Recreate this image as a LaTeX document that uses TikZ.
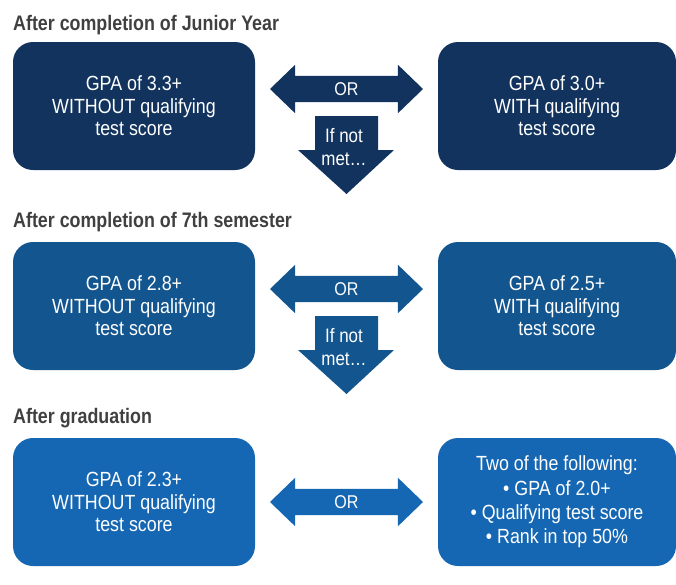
\documentclass[tikz,border=0pt]{standalone}
\usepackage{fontspec}
\setmainfont{Liberation Sans}[FakeStretch=0.87]
\newfontfamily\headfont{Liberation Sans}[FakeStretch=0.85]
\usetikzlibrary{shapes.arrows}
\definecolor{rowone}{HTML}{11335E}
\definecolor{rowtwo}{HTML}{13558F}
\definecolor{rowthree}{HTML}{1667B3}
\definecolor{titlegray}{HTML}{404040}
\begin{document}
\begin{tikzpicture}
    [x=1pt,y=-1pt,
     box/.style={rounded corners=20pt,minimum width=242pt,minimum height=128pt,
       align=center,text=white,font=\fontsize{20.5}{22.5}\selectfont},
     head/.style={anchor=base west,inner sep=0pt,text=titlegray,
       font=\headfont\bfseries\fontsize{21}{23}\selectfont},
     orarrow/.style={double arrow,double arrow head extend=11pt,
       double arrow tip angle=88,minimum height=153pt,inner xsep=0pt,inner ysep=0pt,
       text height=19.5pt,text depth=6.5pt,text=white,font=\fontsize{18.5}{20}\selectfont},
     notmet/.style={align=center,inner sep=0pt,text=white,
       font=\fontsize{19.5}{23}\selectfont}]
    \useasboundingbox (0,0) rectangle (676,584);
    % junior year
    \node [head] (h1) at (13,30) {After completion of Junior Year};
    \node [box,fill=rowone] (a1) at (134,106) {GPA of 3.3+\\WITHOUT qualifying\\test score};
    \node [box,fill=rowone,minimum width=238pt] (b1) at (557,106) {GPA of 3.0+\\WITH qualifying\\test score};
    \node [orarrow,fill=rowone] (or1) at (346.5,89) {OR};
    \fill [rowone] (315,116) -- (378,116) -- (378,150) -- (394,150) -- (346.5,194)
      -- (298,150) -- (315,150) -- cycle;
    \node [notmet] (nm1) at (344,147) {If not\\met\dots};
    % 7th semester
    \node [head] (h2) at (13,227) {After completion of 7th semester};
    \node [box,fill=rowtwo] (a2) at (134,306) {GPA of 2.8+\\WITHOUT qualifying\\test score};
    \node [box,fill=rowtwo,minimum width=238pt] (b2) at (557,306) {GPA of 2.5+\\WITH qualifying\\test score};
    \node [orarrow,fill=rowtwo] (or2) at (346.5,289) {OR};
    \fill [rowtwo] (315,316) -- (378,316) -- (378,350) -- (394,350) -- (346.5,394)
      -- (298,350) -- (315,350) -- cycle;
    \node [notmet] (nm2) at (344,347) {If not\\met\dots};
    % graduation
    \node [head] (h3) at (13,423) {After graduation};
    \node [box,fill=rowthree] (a3) at (134,502) {GPA of 2.3+\\WITHOUT qualifying\\test score};
    \node [box,fill=rowthree,minimum width=238pt,font=\fontsize{20.5}{24.3}\selectfont] (b3) at (557,502)
      {Two of the following:\\\textbullet\ GPA of 2.0+\\\textbullet\ Qualifying test score\\\textbullet\ Rank in top 50\%};
    \node [orarrow,fill=rowthree] (or3) at (346.5,502) {OR};
  \end{tikzpicture}
\end{document}
